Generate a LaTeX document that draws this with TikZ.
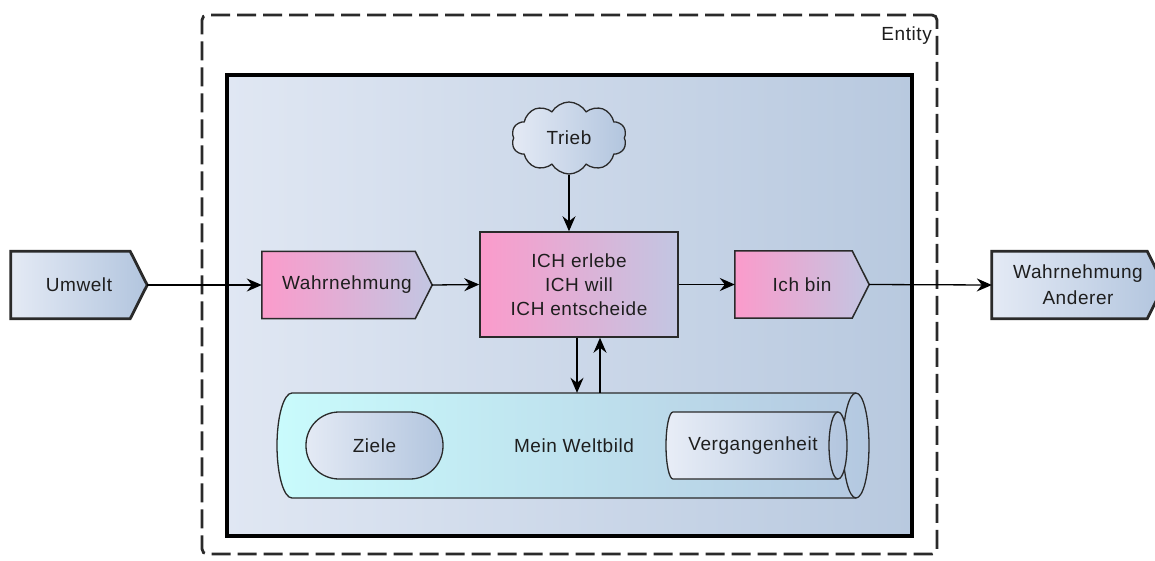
\documentclass[tikz,border=0pt]{standalone}
\usepackage{fontspec}
\setmainfont{Liberation Sans}[LetterSpace=3]
\usetikzlibrary{arrows.meta,shapes.symbols,shapes.geometric,calc}

\definecolor{ink}{HTML}{1E1E1E}
\definecolor{edge}{HTML}{2A2A2A}
\definecolor{paleL}{HTML}{E4EAF5}
\definecolor{paleR}{HTML}{B2C5DE}
\definecolor{pinkL}{HTML}{FB9BCB}
\definecolor{pinkR}{HTML}{C2C6E2}
\definecolor{cyanL}{HTML}{C9FBFC}
\definecolor{cyanR}{HTML}{B4C8E0}
\definecolor{frameL}{HTML}{E0E7F3}
\definecolor{frameR}{HTML}{B8C9DF}

\pgfdeclarelayer{frames}
\pgfdeclarelayer{shapes}
\pgfsetlayers{frames,shapes,main}

\tikzset{
  txt/.style={font=\fontsize{19}{24}\selectfont, text=ink, align=center},
  conn/.style={draw=black, line width=1.3pt, -{Stealth[length=15pt,width=13pt,inset=5pt]}},
  flagnode/.style={rectangle, minimum height=67pt, inner sep=0pt, txt},
  outerflag/.style={draw=edge, line width=2.8pt, left color=paleL, right color=paleR},
  innerflag/.style={draw=edge, line width=1.5pt, left color=pinkL, right color=pinkR},
  pinkbox/.style={rectangle, draw=edge, line width=1.5pt, left color=pinkL, right color=pinkR,
    inner sep=0pt, txt},
  softline/.style={draw=edge, line width=1.3pt},
}

% pentagon outline (flat left side, pointed right side) round a text node
\newcommand\flagoutline[2]{%
  \path[#2] (#1.north west) -- ([xshift=-17pt]#1.north east) -- (#1.east)
    -- ([xshift=-17pt]#1.south east) -- (#1.south west) -- cycle;}

\begin{document}
\begin{tikzpicture}[x=1pt, y=1pt, yscale=-1]
  \useasboundingbox (0,0) rectangle (1155,560);

  \begin{pgfonlayer}{frames}
    \fill[white] (0,0) rectangle (1155,560);
    % entity frame (dashed)
    \node[draw=edge, line width=2.8pt, dash pattern=on 19pt off 7pt, rounded corners=5pt,
          minimum width=735pt, minimum height=539pt, inner sep=0pt] (entity) at (569.5,284.5) {};
    % inner frame
    \node[draw=black, line width=4pt, left color=frameL, right color=frameR,
          minimum width=685pt, minimum height=461pt, inner sep=0pt] (inner) at (569.5,305.5) {};
  \end{pgfonlayer}

  \node[txt, anchor=base east, inner sep=0pt] (entitylabel) at (932,40) {Entity};

  % world-view cylinder
  \begin{pgfonlayer}{shapes}
    \path[softline, left color=cyanL, right color=cyanR]
      (292,393) -- (856,393)
      arc[start angle=-90, end angle=90, x radius=13pt, y radius=52.5pt]
      -- (292,498)
      arc[start angle=90, end angle=270, x radius=15pt, y radius=52.5pt] -- cycle;
    \draw[softline] (856,393) arc[start angle=-90, end angle=-270, x radius=13pt, y radius=52.5pt];
    % past (small cylinder)
    \path[softline, left color=paleL!85!white, right color=paleR]
      (673,412) -- (838,412)
      arc[start angle=-90, end angle=90, x radius=9pt, y radius=33.5pt]
      -- (673,479)
      arc[start angle=90, end angle=270, x radius=7pt, y radius=33.5pt] -- cycle;
    \draw[softline] (838,412) arc[start angle=-90, end angle=-270, x radius=9pt, y radius=33.5pt];
  \end{pgfonlayer}
  \node[txt, minimum width=564pt, minimum height=105pt, inner sep=0pt] (welt) at (574,445.5) {Mein Weltbild};
  \node[txt, inner sep=0pt] (verg) at (753,446) {Vergangenheit};

  % goals
  \node[softline, rectangle, rounded corners=33pt, left color=paleL, right color=paleR,
        minimum width=137pt, minimum height=67pt, inner sep=0pt, txt] (ziele) at (374.5,445.5) {Ziele};

  % drive
  \node[cloud, cloud puffs=10, cloud puff arc=120, aspect=1.6, draw=edge, line width=1.3pt,
        left color=paleL, right color=paleR, minimum width=115pt, minimum height=72pt,
        inner sep=0pt, txt] (trieb) at (569,138) {Trieb};

  % flow
  \node[flagnode, minimum width=136pt] (umwelt) at (79,285) {Umwelt};
  \node[flagnode, minimum width=170pt] (wahr) at (347,285) {Wahrnehmung};
  \node[pinkbox, minimum width=198pt, minimum height=105pt] (ich) at (579,284.5)
        {ICH erlebe\\ICH will\\ICH entscheide};
  \node[flagnode, minimum width=134pt] (ichbin) at (802,284.5) {Ich bin};
  \node[flagnode, minimum width=172pt, font=\fontsize{19}{26}\selectfont] (anderer) at (1078,285)
        {Wahrnehmung\\Anderer};

  \begin{pgfonlayer}{shapes}
    \flagoutline{umwelt}{outerflag}
    \flagoutline{wahr}{innerflag}
    \flagoutline{ichbin}{innerflag}
    \flagoutline{anderer}{outerflag}
  \end{pgfonlayer}

  % connectors
  \draw[conn] (umwelt.east) -- (wahr.west);
  \draw[conn] (wahr.east) -- (ich.west);
  \draw[conn] (ich.east) -- (ichbin.west);
  \draw[conn] (ichbin.east) -- (anderer.west);
  \draw[conn] (trieb.south) -- (trieb.south |- ich.north);
  \draw[conn] ([xshift=-2pt]ich.south) -- ([xshift=-2pt]ich.south |- welt.north);
  \draw[conn] ([xshift=21pt]ich.south |- welt.north) -- ([xshift=21pt]ich.south);
\end{tikzpicture}
\end{document}
